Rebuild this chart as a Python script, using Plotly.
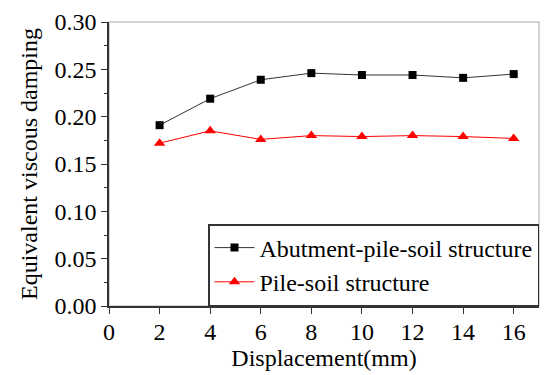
import plotly.graph_objects as go

displacement = [2, 4, 6, 8, 10, 12, 14, 16]
abutment_pile_soil = [0.191, 0.219, 0.239, 0.246, 0.244, 0.244, 0.241, 0.245]
pile_soil = [0.172, 0.185, 0.176, 0.180, 0.179, 0.180, 0.179, 0.177]
x_ticks = [0, 2, 4, 6, 8, 10, 12, 14, 16]
y_ticks = [0.00, 0.05, 0.10, 0.15, 0.20, 0.25, 0.30]

font_family = "Liberation Serif, Times New Roman, serif"

fig = go.Figure()
fig.add_trace(go.Scatter(
    x=displacement, y=abutment_pile_soil, mode="lines+markers",
    name="Abutment-pile-soil structure",
    line=dict(color="#333333", width=1),
    marker=dict(symbol="square", size=8, color="black"),
))
fig.add_trace(go.Scatter(
    x=displacement, y=pile_soil, mode="lines+markers",
    name="Pile-soil structure",
    line=dict(color="#ff0000", width=1),
    marker=dict(symbol="triangle-up", size=10, color="#ff0000"),
))

# light gray frame for top/right
fig.add_shape(type="rect", xref="paper", yref="paper", x0=0, y0=0, x1=1, y1=1,
              line=dict(color="#c8c8c8", width=1.5), layer="below")

# page body has an 8px margin; size figure to fit the 550x375 window
fig.update_layout(
    width=542, height=367,
    margin=dict(l=101, r=11, t=14, b=69, autoexpand=False),
    paper_bgcolor="white", plot_bgcolor="white",
    font=dict(family=font_family, size=24, color="black"),
    showlegend=True,
    legend=dict(
        x=1, y=0, xanchor="right", yanchor="bottom",
        bordercolor="#333333", borderwidth=1.5, bgcolor="white",
        font=dict(size=24), itemwidth=40, tracegroupgap=0,
    ),
    xaxis=dict(
        range=[0, 17], tickvals=x_ticks, ticktext=[str(v) for v in x_ticks],
        automargin=False, ticklabelstandoff=-3,
        showgrid=False, zeroline=False, showline=True, linecolor="#333333", linewidth=1.5,
        ticks="outside", ticklen=6, tickcolor="#333333",
        title=dict(text="Displacement(mm)", standoff=0, font=dict(size=24)),
    ),
    yaxis=dict(
        range=[0, 0.30], tickvals=y_ticks, ticktext=[f"{v:.2f}" for v in y_ticks],
        automargin=False,
        showgrid=False, zeroline=False, showline=True, linecolor="#333333", linewidth=1.5,
        ticks="outside", ticklen=6, tickcolor="#333333",
        minor=dict(dtick=0.025, ticks="outside", ticklen=3, tickcolor="#333333", showgrid=False),
        title=dict(text="Equivalent viscous damping", standoff=10, font=dict(size=24)),
    ),
)

fig.write_html("out.html")
